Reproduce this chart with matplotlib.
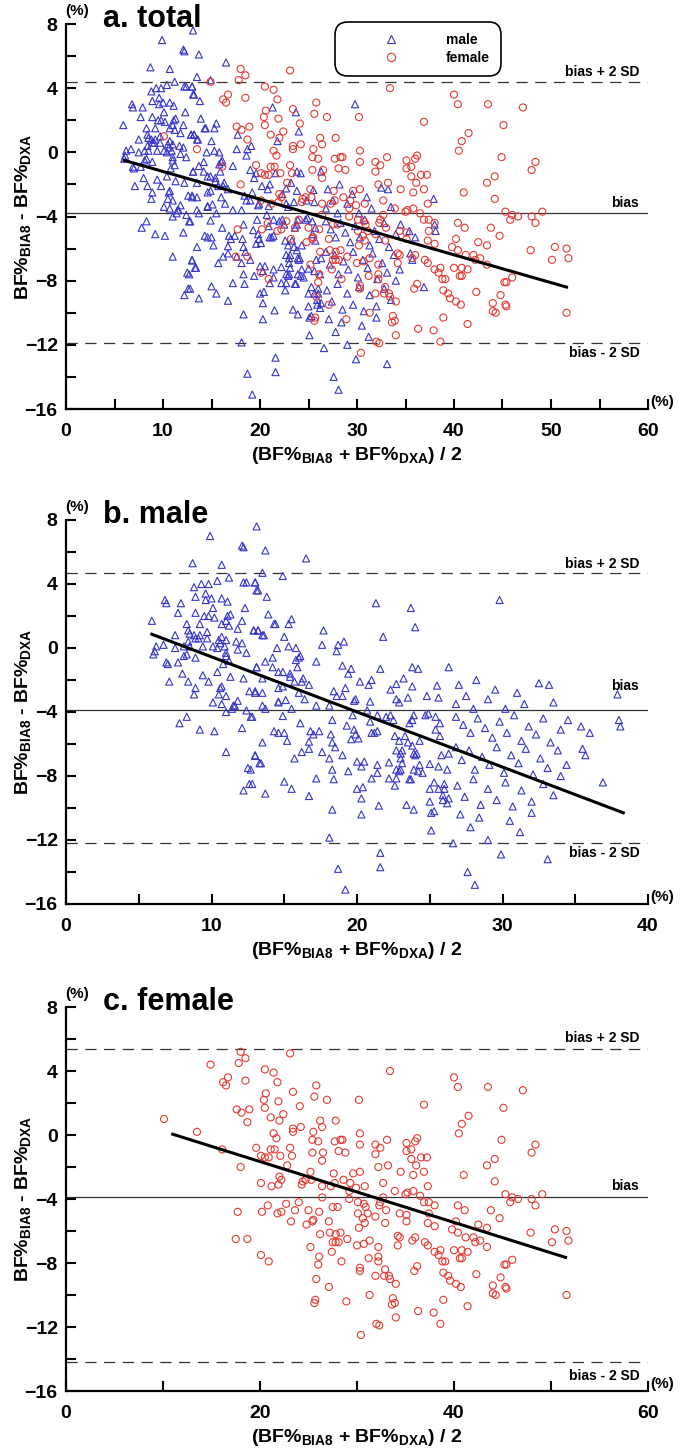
import matplotlib
matplotlib.use('Agg')
import matplotlib.pyplot as plt
from matplotlib.lines import Line2D
from matplotlib.ticker import MultipleLocator
import matplotlib.transforms as mtransforms

plt.rcParams['font.family'] = ['Liberation Sans', 'DejaVu Sans']
plt.rcParams['font.weight'] = 'bold'
plt.rcParams['mathtext.fontset'] = 'custom'
plt.rcParams['mathtext.rm'] = 'Liberation Sans:bold'
plt.rcParams['mathtext.bf'] = 'Liberation Sans:bold'
plt.rcParams['mathtext.it'] = 'Liberation Sans:bold'

# ---------------- data (mean BF%, difference BF%) ----------------
male_pts = [
    (9.9, 7.0), (12.1, 6.4), (12.2, 6.3), (8.7, 5.3), (10.7, 5.2), (9.3, 4.0), (9.8, 4.0), (10.4, 4.2),
    (11.2, 4.4), (8.8, 3.8), (9.6, 3.4), (8.9, 3.2), (9.6, 3.0), (10.0, 3.1), (10.7, 3.1), (11.1, 2.9),
    (6.8, 3.0), (6.9, 2.8), (7.9, 2.8), (12.2, 4.1), (12.4, 4.1), (13.0, 4.1), (13.1, 3.6), (12.3, 2.5),
    (10.1, 2.5), (8.9, 2.2), (7.7, 2.2), (9.5, 2.0), (9.8, 2.0), (10.2, 1.9), (11.1, 2.0), (11.3, 2.1),
    (11.0, 1.7), (5.9, 1.7), (8.3, 1.5), (9.2, 1.5), (10.7, 1.5), (11.2, 1.4), (12.1, 1.7), (11.8, 1.2),
    (9.7, 1.0), (8.4, 1.1), (8.5, 0.9), (8.8, 0.8), (8.9, 0.6), (9.1, 0.6), (9.2, 0.8), (9.7, 0.6),
    (10.5, 0.5), (10.7, 0.7), (11.0, 0.5), (10.6, 0.3), (10.1, 0.1), (10.4, 0.0), (10.9, 0.1), (11.7, 0.4),
    (12.1, 0.3), (11.8, -0.1), (12.4, -0.3), (12.9, 1.1), (13.2, 1.1), (7.5, 0.8), (7.5, 0.0), (6.7, 0.2),
    (6.2, 0.1), (6.1, -0.2), (6.0, -0.4), (8.4, 0.4), (8.1, 0.1), (8.5, 0.1), (8.3, -0.4), (8.9, -0.6),
    (9.4, 0.1), (11.0, -0.5), (11.0, -0.3), (11.2, -0.8), (6.9, -0.9), (7.0, -1.0), (7.7, -0.9), (8.1, -0.5),
    (10.8, -1.0), (13.1, -1.2), (8.0, -1.6), (9.4, -1.7), (10.4, -1.5), (11.3, -1.8), (12.2, -1.9), (7.1, -2.1),
    (8.4, -2.1), (9.8, -2.1), (8.9, -2.5), (10.7, -2.4), (10.6, -2.5), (8.8, -2.9), (10.5, -2.9), (11.0, -3.0),
    (11.8, -3.3), (10.1, -3.4), (10.7, -3.5), (11.5, -3.6), (12.6, -2.7), (13.0, -2.7),
    (11.6, -3.6), (11.4, -3.8), (11.0, -4.0), (12.4, -3.9), (12.7, -4.3), (7.8, -4.7), (8.3, -4.3), (9.2, -5.1),
    (10.2, -5.2), (12.1, -5.0), (11.0, -6.5), (13.0, -6.75), (13.3, -7.2), (12.5, -7.5), (12.6, -8.5), (12.2, -8.9),
    (13.1, 7.6), (13.7, 6.1), (16.5, 5.6), (13.5, 4.7), (14.9, 4.5), (13.0, 4.1), (13.2, 3.6), (13.8, 3.2),
    (21.3, 2.8), (23.7, 2.5), (13.9, 2.1), (14.3, 1.5), (14.4, 1.5), (15.5, 1.8), (15.3, 1.5), (24.0, 1.3),
    (17.7, 1.1), (21.8, 0.7), (12.9, 1.1), (13.2, 1.1), (13.5, 0.8), (13.6, 0.8), (15.0, 0.7), (17.6, 0.2),
    (18.7, 0.2), (19.1, 0.4), (18.6, -0.2), (14.5, 0.0), (15.3, 0.1), (15.8, 0.0), (16.1, -0.5), (16.0, -0.6),
    (15.8, -0.75), (17.2, -0.85), (13.7, -0.85), (14.2, -0.6), (14.2, -1.2), (13.1, -1.2), (15.9, -1.2), (19.0, -1.1),
    (19.6, -1.3), (21.6, -1.3), (23.8, -1.2), (24.2, -1.3), (26.3, -1.2), (19.4, -1.6), (14.6, -1.5), (14.9, -1.5),
    (15.4, -1.6), (15.4, -1.8), (16.3, -1.9), (16.2, -2.1), (13.5, -1.9), (20.2, -2.1), (21.0, -2.0), (20.8, -2.3),
    (23.2, -1.9), (22.7, -2.25), (23.8, -2.4), (22.3, -2.6), (25.5, -2.35), (15.7, -2.1), (16.7, -2.3), (14.6, -2.5),
    (14.9, -2.4), (13.0, -2.8), (13.5, -2.8), (18.4, -2.7), (18.6, -3.0), (19.2, -2.5), (19.0, -3.0), (16.0, -2.8),
    (15.1, -3.25), (14.6, -3.35), (16.4, -3.2), (17.2, -3.6), (18.1, -3.6), (19.8, -3.3), (19.9, -3.2), (20.9, -3.35),
    (22.7, -3.2), (22.9, -3.4), (23.5, -3.1), (24.8, -3.0), (25.6, -3.1),
    (13.5, -3.6), (13.7, -3.8), (14.6, -3.4), (15.5, -3.8), (14.9, -4.25), (12.8, -4.3), (16.1, -4.7), (18.3, -4.5),
    (19.3, -4.85), (19.7, -4.2), (19.8, -5.1), (19.9, -5.4), (20.1, -5.65), (19.6, -5.7), (20.7, -3.9), (21.4, -4.2),
    (20.9, -4.6), (21.2, -5.3), (21.4, -5.2), (21.0, -5.3), (22.0, -4.3), (22.3, -4.2), (22.5, -4.5), (23.9, -4.2),
    (23.8, -4.5), (23.6, -4.7), (24.7, -4.2), (24.9, -4.1), (25.4, -4.3), (25.7, -4.7), (25.4, -5.1), (14.3, -5.2),
    (14.6, -5.3), (15.0, -5.3), (15.2, -5.8), (13.5, -5.9), (16.8, -5.2), (17.0, -5.4), (17.4, -5.2), (16.7, -5.85),
    (18.2, -5.4), (18.3, -5.9), (18.5, -6.2), (16.7, -6.3), (16.2, -6.5), (17.6, -6.5), (18.1, -6.9), (19.0, -6.7),
    (15.7, -6.9), (13.0, -6.7), (13.4, -7.2), (12.7, -7.6), (12.8, -8.5), (20.0, -7.1), (20.5, -7.1), (20.3, -7.4),
    (19.4, -7.7), (18.3, -7.6), (17.2, -8.15), (18.4, -8.2), (15.0, -8.35), (15.5, -8.8), (13.7, -9.1), (16.7, -9.25),
    (20.0, -8.8), (20.4, -8.7), (20.3, -9.4), (21.0, -8.15), (21.4, -7.8), (22.2, -8.15), (22.6, -8.6), (18.3, -10.1),
    (20.3, -10.4), (21.5, -9.85), (23.4, -9.8), (23.9, -10.1), (18.1, -11.85), (21.6, -12.8), (18.7, -13.8), (21.6, -13.7),
    (19.2, -15.1), (25.1, -11.4), (25.1, -10.3), (25.3, -10.2), (25.0, -9.6), (25.9, -9.5), (26.2, -9.7), (22.7, -8.15),
    (23.7, -8.2), (25.0, -8.8), (25.3, -8.4), (25.6, -8.8), (26.0, -8.8), (25.9, -9.2), (26.0, -8.5), (26.3, -9.4),
    (22.6, -5.5), (22.9, -5.8), (23.3, -5.5), (23.5, -5.9), (23.1, -6.4), (23.0, -6.6), (23.0, -6.9), (23.1, -7.2),
    (22.7, -7.6), (22.9, -7.7), (23.0, -7.6), (23.9, -6.6), (24.0, -6.7), (24.1, -6.6), (24.3, -7.3), (23.9, -7.6),
    (24.2, -7.7), (24.5, -7.8), (23.6, -8.2), (25.0, -7.25), (25.6, -7.4), (26.2, -7.6), (25.8, -6.7), (24.3, -5.8),
    (23.8, -6.1), (22.7, -6.4), (22.2, -7.15), (21.4, -7.3), (25.7, -5.5), (26.3, -6.6),
    (29.8, 3.0), (37.9, -2.9), (38.0, -4.5), (38.1, -4.9), (36.9, -8.4),
    (27.0, -2.3), (27.5, -3.0), (28.2, -2.0), (29.0, -3.2), (29.5, -2.6), (30.2, -3.8), (31.0, -2.8), (31.5, -3.5),
    (32.5, -2.2), (33.2, -2.3), (33.5, -3.4), (26.8, -3.5), (28.0, -3.8),
    (26.8, -4.3), (27.3, -4.8), (27.8, -5.3), (28.3, -4.4), (28.8, -5.0), (29.3, -5.6), (29.8, -4.6), (30.3, -5.3),
    (30.8, -4.2), (31.3, -5.8), (31.8, -4.9), (32.3, -5.4), (32.8, -4.4), (33.3, -5.9), (34.0, -5.1), (35.4, -4.9),
    (34.5, -4.5), (36.0, -5.3),
    (26.8, -6.2), (27.2, -7.0), (27.7, -6.4), (28.1, -7.6), (28.6, -6.8), (29.1, -7.3), (29.6, -6.2), (30.1, -7.8),
    (30.6, -6.7), (31.1, -7.2), (31.6, -6.3), (32.1, -7.9), (32.6, -6.9), (33.1, -7.5), (33.8, -6.4), (34.4, -7.3),
    (35.5, -6.3), (35.7, -6.7), (34.0, -8.0),
    (26.9, -8.6), (27.4, -9.3), (28.0, -8.2), (28.5, -9.8), (29.0, -8.8), (29.6, -9.5), (30.2, -8.4), (30.7, -9.9),
    (31.3, -8.9), (32.0, -9.6), (32.8, -8.5), (33.5, -9.2),
    (27.1, -10.4), (27.8, -11.2), (28.4, -10.6), (29.0, -12.0), (29.9, -12.9), (30.5, -10.8), (31.2, -11.5),
    (33.1, -13.2), (28.1, -14.8), (27.6, -14.0), (26.6, -12.2), (32.0, -10.3),
]

female_pts = [
    (18.0, 5.2), (23.1, 5.1), (14.9, 4.4), (17.8, 4.5), (18.5, 4.8), (20.5, 4.1), (21.4, 3.9), (33.4, 4.0),
    (21.8, 3.3), (18.5, 3.4), (16.7, 3.6), (16.2, 3.3), (16.5, 3.1), (40.0, 3.6), (40.4, 3.0), (43.5, 3.0),
    (47.1, 2.8), (25.8, 3.1), (23.4, 2.7), (20.6, 2.6), (20.4, 2.2), (25.6, 2.4), (26.9, 2.2), (30.2, 2.2),
    (21.9, 2.1), (24.1, 1.8), (20.5, 1.7), (36.9, 1.9), (45.1, 1.7), (17.6, 1.6), (18.1, 1.4), (18.9, 1.6),
    (21.1, 1.1), (22.4, 1.3), (22.0, 0.9), (27.8, 0.9), (26.2, 0.9), (26.4, 0.5), (18.7, 0.8), (41.5, 1.2),
    (40.8, 0.7), (40.5, 0.1), (10.1, 1.0), (13.5, 0.2), (23.4, 0.4), (24.2, 0.5), (23.4, 0.2), (21.4, 0.1),
    (21.7, -0.2), (25.5, 0.2), (25.4, -0.3), (26.0, -0.4), (30.3, 0.1), (28.3, -0.3), (28.5, -0.3), (27.7, -0.4),
    (33.1, -0.3), (44.9, -0.3), (48.4, -0.6), (48.0, -1.1), (31.9, -0.6), (32.4, -0.8), (35.1, -0.5), (36.0, -0.4),
    (36.2, -0.2), (35.6, -0.9), (35.1, -1.0), (30.3, -0.6), (19.6, -0.8), (21.1, -0.9), (21.5, -0.9), (23.1, -0.8),
    (23.3, -1.3), (20.1, -1.3), (20.5, -1.4), (20.9, -1.4), (22.1, -1.3), (16.1, -0.9), (25.4, -1.1), (26.5, -1.1),
    (26.4, -1.6), (28.1, -1.0), (28.8, -1.1), (31.9, -1.2), (35.6, -1.5), (36.6, -1.4), (37.2, -1.4), (44.2, -1.5),
    (43.4, -1.9), (36.1, -1.9), (33.2, -1.9), (32.2, -2.0), (34.5, -2.3), (35.8, -2.5), (36.9, -2.3), (41.0, -2.5),
    (44.2, -2.9), (18.0, -2.0), (22.8, -1.9), (25.2, -2.3), (27.6, -2.4), (29.6, -2.4), (30.3, -2.3), (28.6, -2.8),
    (29.3, -3.0), (29.9, -3.3), (30.8, -3.2), (32.7, -3.0), (37.3, -3.2), (22.0, -2.6), (22.2, -2.8), (21.9, -3.1),
    (21.2, -3.2), (20.1, -3.0), (24.4, -2.9), (24.7, -2.8), (24.3, -3.1), (25.3, -2.8), (26.4, -3.2), (27.7, -3.0),
    (27.3, -3.2), (29.2, -3.5), (33.9, -3.5), (35.0, -3.7), (35.2, -3.6), (35.8, -3.5), (36.5, -3.8), (45.3, -3.7),
    (46.0, -3.9), (46.6, -4.0), (45.8, -4.2), (48.0, -4.0), (48.4, -4.4), (49.1, -3.7), (26.4, -3.9), (32.7, -3.9),
    (32.4, -4.2), (32.3, -4.4), (29.2, -4.0), (30.1, -4.2), (30.7, -4.3), (30.9, -4.5), (36.9, -4.2), (37.4, -4.2),
    (38.0, -4.4), (40.4, -4.4), (41.1, -4.7), (43.8, -4.7), (44.7, -5.2), (20.8, -4.4), (22.7, -4.3), (24.0, -4.2),
    (17.7, -4.8), (20.2, -4.8), (21.8, -4.9), (22.2, -4.8), (23.6, -4.7), (25.0, -4.7), (26.1, -4.8), (27.5, -4.5),
    (28.0, -4.5), (30.1, -4.9), (31.1, -4.9), (33.0, -4.7), (34.4, -4.9), (35.1, -5.0), (37.4, -4.9), (23.2, -5.4),
    (24.8, -5.6), (25.4, -5.4), (25.5, -5.3), (27.1, -5.4), (30.6, -5.2), (30.8, -5.5), (31.9, -5.1), (32.9, -5.5),
    (35.1, -5.4), (37.3, -5.5), (38.0, -5.7), (40.2, -5.4), (39.8, -5.9), (40.4, -6.1), (42.5, -5.6), (43.4, -5.8),
    (47.9, -6.1), (50.4, -5.9), (50.1, -6.7), (30.2, -5.8), (26.2, -6.2), (27.2, -6.1), (27.8, -6.2), (28.3, -6.1),
    (27.8, -6.7), (27.5, -6.7), (28.1, -6.7), (29.0, -6.5), (34.2, -6.3), (34.4, -6.4), (36.0, -6.4), (34.2, -6.9),
    (35.7, -6.6), (37.0, -6.7), (37.3, -6.9), (41.2, -6.4), (42.0, -6.4), (42.2, -6.7), (42.7, -6.6), (43.4, -7.0),
    (17.5, -6.5), (18.7, -6.5), (25.2, -7.0), (30.0, -6.9), (30.7, -6.8), (31.3, -6.6), (32.2, -7.0), (38.0, -7.3),
    (38.6, -7.2), (38.4, -7.5), (38.8, -7.9), (39.1, -7.9), (40.0, -7.2), (40.8, -7.2), (41.4, -7.3), (40.6, -7.7),
    (40.8, -7.7), (20.1, -7.5), (20.9, -7.9), (26.1, -7.6), (26.0, -8.1), (27.4, -7.3), (28.4, -7.9), (31.2, -7.7),
    (32.2, -7.6), (32.2, -7.9), (30.3, -8.3), (30.3, -8.5), (32.9, -8.4), (33.3, -8.8), (31.9, -8.8), (32.8, -8.8),
    (33.4, -9.0), (34.0, -9.3), (36.2, -8.2), (35.9, -8.5), (38.9, -8.6), (39.4, -8.8), (39.6, -9.1), (40.2, -9.3),
    (40.7, -9.5), (42.3, -8.7), (44.8, -8.9), (45.2, -8.1), (45.4, -8.1), (46.0, -7.8), (44.0, -9.4), (44.0, -9.9),
    (44.3, -10.0), (45.3, -9.5), (45.4, -9.6), (25.8, -9.0), (27.1, -9.5), (25.7, -10.3), (25.6, -10.5), (28.9, -10.4),
    (31.3, -10.0), (33.7, -10.2), (33.9, -10.5), (33.6, -10.6), (38.9, -10.3), (41.4, -10.7), (36.3, -11.0), (37.9, -11.1),
    (38.6, -11.8), (34.0, -11.4), (32.0, -11.8), (32.3, -11.9), (30.4, -12.5), (51.6, -10.0), (51.6, -6.0), (51.8, -6.6),
]

# reference lines: bias + 2SD, bias, bias - 2SD
limits_total = [4.4, -3.8, -11.9]
limits_male = [4.7, -3.85, -12.2]
limits_female = [5.4, -3.85, -14.2]

# regression line endpoints (mean, difference)
reg_total = [(6.0, -0.5), (51.6, -8.4)]
reg_male = [(5.9, 0.86), (38.3, -10.3)]
reg_female = [(11.0, 0.05), (51.5, -7.65)]

titles = ['a. total', 'b. male', 'c. female']
xmax_list = [60, 40, 60]
xmajor_list = [10, 10, 20]
xminor_list = [5, 5, 10]

BLUE = '#3535cc'
RED = '#e33a32'

W, H = 682, 1451
fig = plt.figure(figsize=(W / 100, H / 100), dpi=100)

# axes extents in pixels: (left, top, right, bottom)
boxes = [(66, 24, 648, 409), (66, 520, 648, 904), (66, 1007, 648, 1391)]
# label offsets (pixels) for '+2SD', 'bias', '-2SD' texts
text_offsets = [(10, 10, -10), (9, 24, -10), (11, 11, -14)]

xlabel = r'(BF%$_{\rm BIA8}$ + BF%$_{\rm DXA}$) / 2'
ylabel = r'BF%$_{\rm BIA8}$ - BF%$_{\rm DXA}$'

panel_data = [
    (male_pts, female_pts, limits_total, reg_total),
    (male_pts, None, limits_male, reg_male),
    (None, female_pts, limits_female, reg_female),
]

for i, (box, title, xmax, xmaj, xmin_, pdata, toffs) in enumerate(
        zip(boxes, titles, xmax_list, xmajor_list, xminor_list, panel_data, text_offsets)):
    l, t, r, b = box
    ax = fig.add_axes([l / W, 1 - b / H, (r - l) / W, (b - t) / H])
    mpts, fpts, lims, reg = pdata
    ax.set_xlim(0, xmax)
    ax.set_ylim(-16, 8)
    for side in ['top', 'right']:
        ax.spines[side].set_visible(False)
    for side in ['left', 'bottom']:
        ax.spines[side].set_linewidth(1.6)
    ax.xaxis.set_major_locator(MultipleLocator(xmaj))
    ax.xaxis.set_minor_locator(MultipleLocator(xmin_))
    ax.yaxis.set_major_locator(MultipleLocator(4))
    ax.yaxis.set_minor_locator(MultipleLocator(2))
    ax.tick_params(which='both', direction='in', length=7, width=1.5, labelsize=14)
    ax.tick_params(axis='y', which='both', pad=6)
    ax.tick_params(axis='x', which='both', pad=10)

    # reference lines
    ax.axhline(lims[0], color='#333333', lw=0.9, ls=(0, (9, 6)), zorder=1)
    ax.axhline(lims[1], color='#333333', lw=0.9, ls='-', zorder=1)
    ax.axhline(lims[2], color='#333333', lw=0.9, ls=(0, (9, 6)), zorder=1)

    if mpts is not None:
        ax.scatter([p[0] for p in mpts], [p[1] for p in mpts], marker='^', s=26,
                   facecolors='none', edgecolors=BLUE, linewidths=0.8, zorder=3)
    if fpts is not None:
        ax.scatter([p[0] for p in fpts], [p[1] for p in fpts], marker='o', s=26,
                   facecolors='none', edgecolors=RED, linewidths=0.8, zorder=3)

    ax.plot([reg[0][0], reg[1][0]], [reg[0][1], reg[1][1]], color='black', lw=2.2, zorder=4)

    trans = mtransforms.blended_transform_factory(ax.transAxes, ax.transData)
    labels = ['bias + 2 SD', 'bias', 'bias - 2 SD']
    for lab, val, off in zip(labels, lims, toffs):
        ax.annotate(lab, xy=(0.985, val), xycoords=trans, xytext=(0, off),
                    textcoords='offset pixels', ha='right', va='center', fontsize=10,
                    fontweight='bold')

    ax.set_xlabel(xlabel, fontsize=14, fontweight='bold', labelpad=4)
    ax.set_ylabel(ylabel, fontsize=14, fontweight='bold')
    ax.yaxis.set_label_coords((33 - l) / (r - l), 0.5)

    fig.text(103 / W, 1 - (t + 3) / H, title, fontsize=22, fontweight='bold', va='baseline', ha='left')
    fig.text(65 / W, 1 - (t - 13) / H, '(%)', fontsize=11, fontweight='bold', va='center', ha='left')
    fig.text(650 / W, 1 - (b - 7) / H, '(%)', fontsize=11, fontweight='bold', va='center', ha='left')

    if i == 0:
        handles = [Line2D([], [], marker='^', ls='', mfc='none', mec=BLUE, ms=6, mew=0.8),
                   Line2D([], [], marker='o', ls='', mfc='none', mec=RED, ms=6, mew=0.8)]
        leg = ax.legend(handles, ['male', 'female'], loc='upper left',
                        bbox_to_anchor=((335 - l) / (r - l), 1 + (t - 22) / (b - t)),
                        borderaxespad=0, frameon=True, fancybox=True,
                        handlelength=6.4, handletextpad=0.8, borderpad=0.8, labelspacing=0.25,
                        prop={'weight': 'bold', 'size': 10})
        fr = leg.get_frame()
        fr.set_edgecolor('black')
        fr.set_linewidth(1.2)
        fr.set_alpha(1)
        fr.set_boxstyle('round', pad=0, rounding_size=0.9)

fig.savefig('out.png', dpi=100)
